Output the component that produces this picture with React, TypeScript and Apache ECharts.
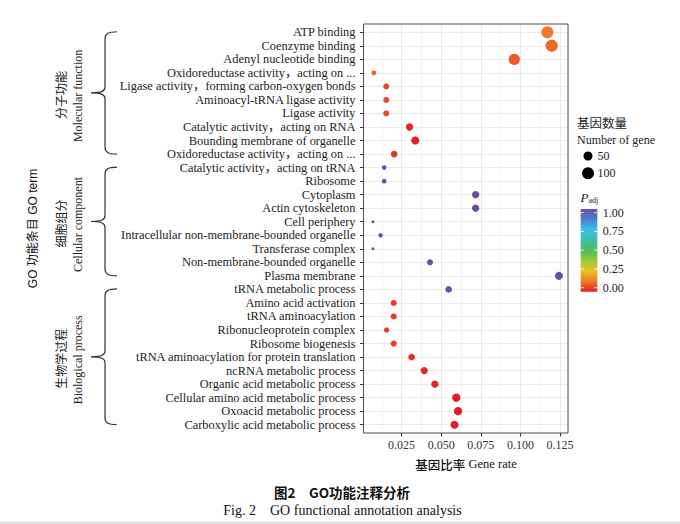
import React, { useEffect, useRef } from "react";
import * as echarts from "echarts";

// ---------- data (top to bottom) ----------
const categories = [
  "ATP binding",
  "Coenzyme binding",
  "Adenyl nucleotide binding",
  "Oxidoreductase activity，acting on ...",
  "Ligase activity，forming carbon-oxygen bonds",
  "Aminoacyl-tRNA ligase activity",
  "Ligase activity",
  "Catalytic activity，acting on RNA",
  "Bounding membrane of organelle",
  "Oxidoreductase activity，acting on ... ",
  "Catalytic activity，acting on tRNA",
  "Ribosome",
  "Cytoplasm",
  "Actin cytoskeleton",
  "Cell periphery",
  "Intracellular non-membrane-bounded organelle",
  "Transferase complex",
  "Non-membrane-bounded organelle",
  "Plasma membrane",
  "tRNA metabolic process",
  "Amino acid activation",
  "tRNA aminoacylation",
  "Ribonucleoprotein complex",
  "Ribosome biogenesis",
  "tRNA aminoacylation for protein translation",
  "ncRNA metabolic process",
  "Organic acid metabolic process",
  "Cellular amino acid metabolic process",
  "Oxoacid metabolic process",
  "Carboxylic acid metabolic process",
];
const geneRate = [
  0.117, 0.1197, 0.0961, 0.0075, 0.0153, 0.0153, 0.0153, 0.03, 0.0336, 0.0203,
  0.014, 0.014, 0.0717, 0.0717, 0.0069, 0.0117, 0.0069, 0.0429, 0.1243,
  0.0547, 0.02, 0.02, 0.0155, 0.02, 0.0313, 0.0393, 0.046, 0.0595, 0.0606, 0.0584,
];
const geneCount = [
  100, 105, 86, 13, 20, 20, 20, 30, 38, 25,
  13, 13, 30, 30, 10, 12, 10, 20, 38,
  25, 20, 20, 16, 20, 25, 30, 30, 41, 41, 38,
];
const pAdj = [
  0.12, 0.1, 0.08, 0.09, 0.06, 0.06, 0.06, 0.005, 0.0, 0.03,
  0.98, 0.98, 1.0, 1.0, 1.0, 1.0, 1.0, 1.0, 1.0,
  0.98, 0.04, 0.04, 0.04, 0.04, 0.025, 0.015, 0.01, 0.0, 0.0, 0.0,
];
const groupZh = ["分子功能", "细胞组分", "生物学过程"];
const groupEn = ["Molecular function", "Cellular component", "Biological process"];
const groupFirst = [0, 10, 19];
const groupLast = [9, 18, 29];
const sizeBreaks = [50, 100];
const colorBreaks = [1, 0.75, 0.5, 0.25, 0];
const colorBreakLabels = ["1.00", "0.75", "0.50", "0.25", "0.00"];
const palette = [
  "#E41E26", "#F2792A", "#E9C21F", "#9BC93A", "#4DBE5E",
  "#3EBFA8", "#3DBFE6", "#4B80CF", "#6A4BA6",
];

const SERIF = "'Liberation Serif', 'Noto Sans CJK SC', serif";
const SANS = "'Liberation Sans', 'Noto Sans CJK SC', sans-serif";
const sizeOf = (c: number) => 3 + 9.25 * Math.sqrt(Math.max(0, (c - 10) / 95));

export default function App() {
  const ref = useRef<HTMLDivElement>(null);
  useEffect(() => {
    if (!ref.current) return;
    const chart = echarts.init(ref.current, null, { renderer: "svg" });
    const data = categories.map((c, i) => [geneRate[i], c, geneCount[i], pAdj[i]]);
    const gridTop = 25.5;
    const gridBottom = 92.5;
    chart.setOption({
      animation: false,
      backgroundColor: "#ffffff",
      grid: { left: 362, right: 112, top: gridTop, bottom: gridBottom, show: false },
      xAxis: [
        {
          type: "value",
          position: "top",
          min: 0,
          max: 0.13,
          interval: 0.0125,
          axisLine: { show: false },
          axisTick: { show: false },
          axisLabel: { show: false },
          splitLine: { show: true, showMinLine: false, showMaxLine: false, lineStyle: { color: "#F1F1F1", width: 0.8 } },
        },
        {
          type: "value",
          position: "bottom",
          min: 0,
          max: 0.13,
          interval: 0.025,
          offset: 1.5,
          axisLine: { show: false },
          axisTick: { show: true, length: 3.5, lineStyle: { color: "#333333", width: 1 } },
          axisLabel: {
            show: true,
            showMinLabel: false,
            showMaxLabel: false,
            margin: 6,
            color: "#333333",
            fontFamily: SERIF,
            fontSize: 12,
            formatter: (v: number) => v.toFixed(3),
          },
          splitLine: { show: true, showMinLine: false, showMaxLine: false, lineStyle: { color: "#EBEBEB", width: 1 } },
        },
      ],
      yAxis: {
        type: "category",
        data: categories,
        inverse: true,
        offset: -1.5,
        axisLine: { show: false },
        axisTick: { show: true, alignWithLabel: true, length: 3.5, lineStyle: { color: "#333333", width: 1 } },
        axisLabel: {
          margin: 8,
          color: "#222222",
          fontFamily: SERIF,
          fontSize: 12.4,
          interval: 0,
          formatter: (v: string) => v.trim(),
        },
        splitLine: { show: true, alignWithLabel: true, lineStyle: { color: "#EBEBEB", width: 1 } },
      },
      visualMap: {
        show: false,
        type: "continuous",
        dimension: 3,
        min: 0,
        max: 1,
        seriesIndex: 0,
        inRange: { color: palette },
      },
      series: [
        {
          type: "scatter",
          xAxisIndex: 1,
          data,
          encode: { x: 0, y: 1 },
          symbol: "circle",
          symbolSize: (v: any) => sizeOf(v[2]),
          itemStyle: { opacity: 1 },
          z: 5,
        },
      ],
    });

    const py = (i: number) => chart.convertToPixel({ yAxisIndex: 0 }, categories[i]) as number;
    const graphics: any[] = [];
    // panel border
    graphics.push({
      type: "rect",
      shape: { x: 363.5, y: 24, width: 204.5, height: 409 },
      style: { fill: "none", stroke: "#4D4D4D", lineWidth: 1 },
      z: 10,
    });
    // braces & group labels
    groupZh.forEach((zh, g) => {
      const yt = py(groupFirst[g]) - 0.5;
      const yb = py(groupLast[g]);
      const ym = (yt + yb) / 2;
      const xl = 105, xh = 117, xt = 91;
      const d =
        `M ${xh} ${yt} C ${xl + 3} ${yt} ${xl} ${yt + 2} ${xl} ${yt + 7} ` +
        `L ${xl} ${ym - 6} C ${xl} ${ym - 2} ${xl - 3} ${ym} ${xt} ${ym} ` +
        `C ${xl - 3} ${ym} ${xl} ${ym + 2} ${xl} ${ym + 6} ` +
        `L ${xl} ${yb - 7} C ${xl} ${yb - 2} ${xl + 3} ${yb} ${xh} ${yb}`;
      const name = "brace" + g;
      echarts.graphic.registerShape(name, echarts.graphic.extendPath(d, {}) as any);
      graphics.push({
        type: name,
        x: 0,
        y: 0,
        style: { fill: "none", stroke: "#333333", lineWidth: 1.2 },
      });
      graphics.push({
        type: "text",
        x: 62,
        y: ym + 2,
        rotation: Math.PI / 2,
        style: { text: zh, font: `12px ${SERIF}`, fill: "#222222", align: "center", verticalAlign: "middle" },
      });
      graphics.push({
        type: "text",
        x: 77.5,
        y: ym + 3,
        rotation: Math.PI / 2,
        style: { text: groupEn[g], font: `12px ${SERIF}`, fill: "#222222", align: "center", verticalAlign: "middle" },
      });
    });
    // y axis title
    graphics.push({
      type: "text",
      x: 33,
      y: 228.5,
      rotation: Math.PI / 2,
      style: { text: "GO 功能条目 GO term", font: `12px ${SANS}`, fill: "#111111", align: "center", verticalAlign: "middle" },
    });
    // x axis title
    graphics.push({
      type: "text",
      x: 466,
      y: 464,
      style: {
        text: "{zh|基因比率} {en|Gene rate}",
        align: "center",
        verticalAlign: "middle",
        rich: {
          zh: { fontFamily: "'Noto Sans CJK SC'", fontSize: 12.5, fill: "#111111", fontWeight: 500 },
          en: { fontFamily: SERIF, fontSize: 12.5, fill: "#111111" },
        },
      },
    });
    // size legend
    graphics.push({
      type: "text",
      x: 577,
      y: 123.5,
      style: { text: "基因数量", font: `12.5px ${SERIF}`, fill: "#222222", verticalAlign: "middle" },
    });
    graphics.push({
      type: "text",
      x: 577,
      y: 139.5,
      style: { text: "Number of gene", font: `12px ${SERIF}`, fill: "#222222", verticalAlign: "middle" },
    });
    sizeBreaks.forEach((b, k) => {
      const cy = 156 + k * 17.3;
      graphics.push({
        type: "circle",
        shape: { cx: 588, cy, r: sizeOf(b) / 2 },
        style: { fill: "#000000" },
      });
      graphics.push({
        type: "text",
        x: 597.5,
        y: cy,
        style: { text: String(b), font: `12px ${SERIF}`, fill: "#222222", verticalAlign: "middle" },
      });
    });
    // colour legend
    graphics.push({
      type: "text",
      x: 580.5,
      y: 197,
      style: {
        text: "{p|P}{s|adj}",
        verticalAlign: "middle",
        rich: {
          p: { fontFamily: SERIF, fontSize: 13, fontStyle: "italic", fill: "#222222" },
          s: { fontFamily: SERIF, fontSize: 8, fill: "#222222", padding: [6, 0, 0, 0] },
        },
      },
    });
    graphics.push({
      type: "rect",
      shape: { x: 580.7, y: 209, width: 16.6, height: 82.7 },
      style: {
        fill: {
          type: "linear",
          x: 0, y: 1, x2: 0, y2: 0,
          colorStops: palette.map((c, i) => ({ offset: i / (palette.length - 1), color: c })),
        },
      },
    });
    colorBreaks.forEach((v, k) => {
      const yy = 287.7 - v * 75;
      graphics.push({
        type: "text",
        x: 602.7,
        y: yy,
        style: { text: colorBreakLabels[k], font: `12px ${SERIF}`, fill: "#222222", verticalAlign: "middle" },
      });
      graphics.push({ type: "line", shape: { x1: 580.7, y1: yy, x2: 584, y2: yy }, style: { stroke: "#ffffff", lineWidth: 0.8 } });
      graphics.push({ type: "line", shape: { x1: 594, y1: yy, x2: 597.3, y2: yy }, style: { stroke: "#ffffff", lineWidth: 0.8 } });
    });
    // captions
    graphics.push({
      type: "text",
      x: 342,
      y: 491.5,
      style: {
        text: "图2　GO功能注释分析",
        font: `bold 13.5px 'Noto Sans CJK SC', sans-serif`,
        fill: "#111111",
        align: "center",
        verticalAlign: "middle",
      },
    });
    graphics.push({
      type: "text",
      x: 342.5,
      y: 510,
      style: {
        text: "Fig. 2　GO functional annotation analysis",
        font: `14px ${SERIF}`,
        fill: "#111111",
        align: "center",
        verticalAlign: "middle",
      },
    });
    graphics.push({
      type: "rect",
      shape: { x: 0, y: 521.5, width: 680, height: 2.5 },
      style: { fill: "#E2E2E2" },
    });
    chart.setOption({ graphic: graphics });
    return () => chart.dispose();
  }, []);
  return (
    <div
      ref={ref}
      style={{ position: "absolute", left: 0, top: 0, width: 680, height: 524, background: "#ffffff" }}
    />
  );
}
